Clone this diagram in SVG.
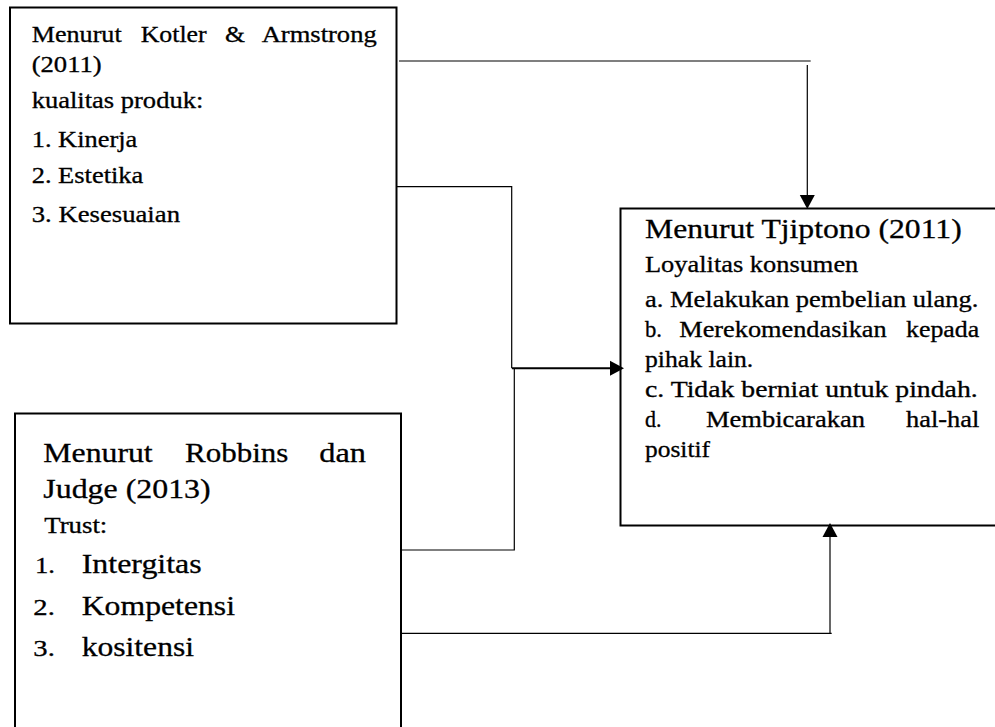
<svg xmlns="http://www.w3.org/2000/svg" width="995" height="727" viewBox="0 0 995 727">
<style>
  .box { fill: #fff; stroke: #000; stroke-width: 2; }
  .tx { font-family: 'Liberation Serif', 'Times New Roman', serif; fill: #000; stroke: #000; stroke-width: 0.3; }
  .s { font-size: 22.7px; }
  .l { font-size: 27.5px; }
  .c { fill: none; stroke: #000; stroke-width: 1.2; }
  .c2 { fill: none; stroke: #000; stroke-width: 2; }
</style>
<defs>
  <marker id="arr" markerUnits="userSpaceOnUse" markerWidth="15" markerHeight="16" refX="0" refY="7.5" orient="auto" overflow="visible">
    <path d="M0,0 L14,7.5 L0,15 Z" fill="#000"/>
  </marker>
</defs>
<rect width="995" height="727" fill="#fff"/>

<g id="kotler">
  <rect class="box" x="10" y="7.5" width="386.5" height="316"/>
  <g class="tx">
    <text class="s" x="31.7" y="41.7" textLength="90" lengthAdjust="spacingAndGlyphs">Menurut</text>
    <text class="s" x="140.7" y="41.7" textLength="66" lengthAdjust="spacingAndGlyphs">Kotler</text>
    <text class="s" x="225" y="41.7" textLength="20" lengthAdjust="spacingAndGlyphs">&amp;</text>
    <text class="s" x="261.7" y="41.7" textLength="115" lengthAdjust="spacingAndGlyphs">Armstrong</text>
    <text class="s" x="31.7" y="72" textLength="70" lengthAdjust="spacingAndGlyphs">(2011)</text>
    <text class="s" x="31.7" y="108.3" textLength="171.6" lengthAdjust="spacingAndGlyphs">kualitas produk:</text>
    <text class="s" x="31.7" y="146.7" textLength="105.6" lengthAdjust="spacingAndGlyphs">1. Kinerja</text>
    <text class="s" x="31.7" y="183.3" textLength="111.6" lengthAdjust="spacingAndGlyphs">2. Estetika</text>
    <text class="s" x="31.7" y="221.7" textLength="148.3" lengthAdjust="spacingAndGlyphs">3. Kesesuaian</text>
  </g>
</g>

<g id="robbins">
  <rect class="box" x="15" y="413.5" width="386" height="330"/>
  <g class="tx">
    <text class="l" x="43.3" y="461.7" textLength="109.4" lengthAdjust="spacingAndGlyphs">Menurut</text>
    <text class="l" x="185" y="461.7" textLength="103.3" lengthAdjust="spacingAndGlyphs">Robbins</text>
    <text class="l" x="319.3" y="461.7" textLength="46.7" lengthAdjust="spacingAndGlyphs">dan</text>
    <text class="l" x="43.3" y="498.3" textLength="167.4" lengthAdjust="spacingAndGlyphs">Judge (2013)</text>
    <text class="s" x="44.3" y="533.3" textLength="63" lengthAdjust="spacingAndGlyphs">Trust:</text>
    <text class="s" x="35" y="573.3" textLength="20" lengthAdjust="spacingAndGlyphs">1.</text>
    <text class="l" x="81.7" y="573.3" textLength="120" lengthAdjust="spacingAndGlyphs">Intergitas</text>
    <text class="s" x="33.3" y="615" textLength="21.5" lengthAdjust="spacingAndGlyphs">2.</text>
    <text class="l" x="81.7" y="615" textLength="153.3" lengthAdjust="spacingAndGlyphs">Kompetensi</text>
    <text class="s" x="33.3" y="655.7" textLength="21.5" lengthAdjust="spacingAndGlyphs">3.</text>
    <text class="l" x="81.7" y="655.7" textLength="112.3" lengthAdjust="spacingAndGlyphs">kositensi</text>
  </g>
</g>

<g id="tjiptono">
  <rect class="box" x="620.5" y="208.5" width="400" height="317"/>
  <g class="tx">
    <text class="l" x="645" y="238.3" textLength="316.7" lengthAdjust="spacingAndGlyphs">Menurut Tjiptono (2011)</text>
    <text class="s" x="645" y="271.7" textLength="213.3" lengthAdjust="spacingAndGlyphs">Loyalitas konsumen</text>
    <text class="s" x="645" y="306.7" textLength="333.3" lengthAdjust="spacingAndGlyphs">a. Melakukan pembelian ulang.</text>
    <text class="s" x="645" y="336.7" textLength="17" lengthAdjust="spacingAndGlyphs">b.</text>
    <text class="s" x="679.3" y="336.7" textLength="207.4" lengthAdjust="spacingAndGlyphs">Merekomendasikan</text>
    <text class="s" x="906" y="336.7" textLength="73.3" lengthAdjust="spacingAndGlyphs">kepada</text>
    <text class="s" x="645" y="366.7" textLength="108.3" lengthAdjust="spacingAndGlyphs">pihak lain.</text>
    <text class="s" x="645" y="396.7" textLength="332.7" lengthAdjust="spacingAndGlyphs">c. Tidak berniat untuk pindah.</text>
    <text class="s" x="645" y="426.7" textLength="16.5" lengthAdjust="spacingAndGlyphs">d.</text>
    <text class="s" x="706" y="426.7" textLength="159" lengthAdjust="spacingAndGlyphs">Membicarakan</text>
    <text class="s" x="906" y="426.7" textLength="73.3" lengthAdjust="spacingAndGlyphs">hal-hal</text>
    <text class="s" x="645" y="456.7" textLength="65" lengthAdjust="spacingAndGlyphs">positif</text>
  </g>
</g>

<g id="connectors">
  <line class="c" x1="399" y1="61" x2="810.7" y2="61"/>
  <line class="c" x1="807.3" y1="65" x2="807.3" y2="195" marker-end="url(#arr)"/>
  <polyline class="c" points="397,186.7 511.7,186.7 511.7,368.3"/>
  <polyline class="c" points="402,550 514.3,550 514.3,368.3"/>
  <line class="c2" x1="512" y1="368.3" x2="610" y2="368.3" marker-end="url(#arr)"/>
  <line class="c" x1="402" y1="633.3" x2="831.7" y2="633.3"/>
  <line class="c" x1="830" y1="633.3" x2="830" y2="537" marker-end="url(#arr)"/>
</g>
</svg>
